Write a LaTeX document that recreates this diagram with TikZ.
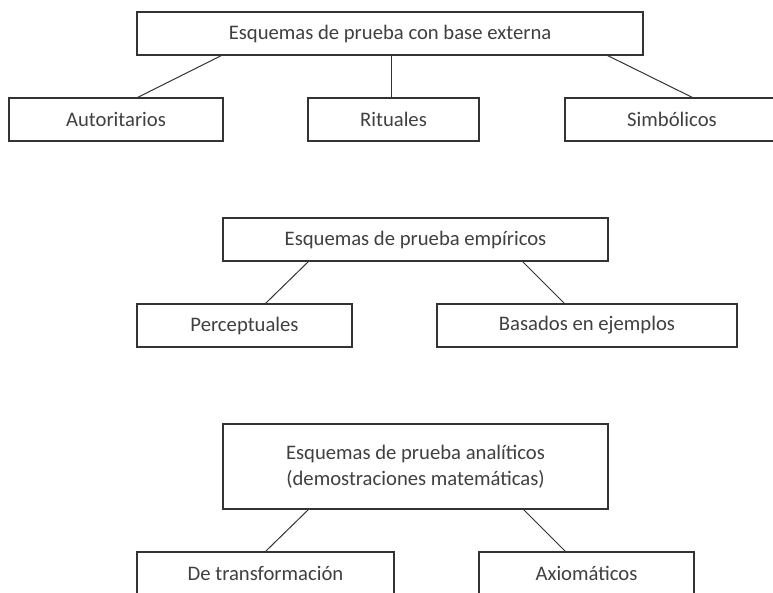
\documentclass[tikz,border=0pt]{standalone}
\usepackage{fontspec}
\setmainfont{Carlito}
\usetikzlibrary{calc}
\definecolor{ink}{HTML}{333333}
\definecolor{txt}{HTML}{404040}
\tikzset{
  box/.style={draw=ink, line width=0.8pt, fill=white, inner sep=0pt, align=center,
    text=txt, font=\fontsize{15.5}{19.5}\selectfont, anchor=center},
  link/.style={draw=ink, line width=0.75pt}
}
\begin{document}
\begin{tikzpicture}[x=0.75pt, y=-0.75pt]
\useasboundingbox (0,0) rectangle (773,592);
\clip (0,0) rectangle (773,592);
% top group
\node[box, minimum width=506*0.75pt, minimum height=43*0.75pt] (T) at (390,33.5) {Esquemas de prueba con base externa};
\node[box, minimum width=214*0.75pt, minimum height=43*0.75pt] (A) at (116,119.5) {Autoritarios};
\node[box, minimum width=171*0.75pt, minimum height=43*0.75pt] (R) at (393.5,119.5) {Rituales};
\node[box, minimum width=214*0.75pt, minimum height=43*0.75pt] (S) at (672,119.5) {Simbólicos};
\draw[link] ([xshift=85*0.75pt]T.south west) -- ([xshift=129*0.75pt]A.north west);
\draw[link] (T.south -| 391,0) -- (R.north -| 391,0);
\draw[link] ([xshift=-36*0.75pt]T.south east) -- ([xshift=128*0.75pt]S.north west);
% middle group
\node[box, minimum width=385*0.75pt, minimum height=43*0.75pt] (E) at (415.5,239.5) {Esquemas de prueba empíricos};
\node[box, minimum width=215*0.75pt, minimum height=43*0.75pt] (P) at (244.5,325.5) {Perceptuales};
\node[box, minimum width=300*0.75pt, minimum height=43*0.75pt] (B) at (587,325.5) {Basados en ejemplos};
\draw[link] ([xshift=86*0.75pt]E.south west) -- ([xshift=129*0.75pt]P.north west);
\draw[link] ([xshift=-86*0.75pt]E.south east) -- ([xshift=128*0.75pt]B.north west);
% bottom group
\node[box, minimum width=385*0.75pt, minimum height=85*0.75pt] (N) at (415.5,466.5) {Esquemas de prueba analíticos\\(demostraciones matemáticas)};
\node[box, minimum width=257*0.75pt, minimum height=43*0.75pt] (D) at (265.5,573.5) {De transformación};
\node[box, minimum width=215*0.75pt, minimum height=43*0.75pt] (X) at (586.5,573.5) {Axiomáticos};
\draw[link] ([xshift=86*0.75pt]N.south west) -- ([xshift=129*0.75pt]D.north west);
\draw[link] ([xshift=-85*0.75pt]N.south east) -- ([xshift=87*0.75pt]X.north west);
\end{tikzpicture}
\end{document}
